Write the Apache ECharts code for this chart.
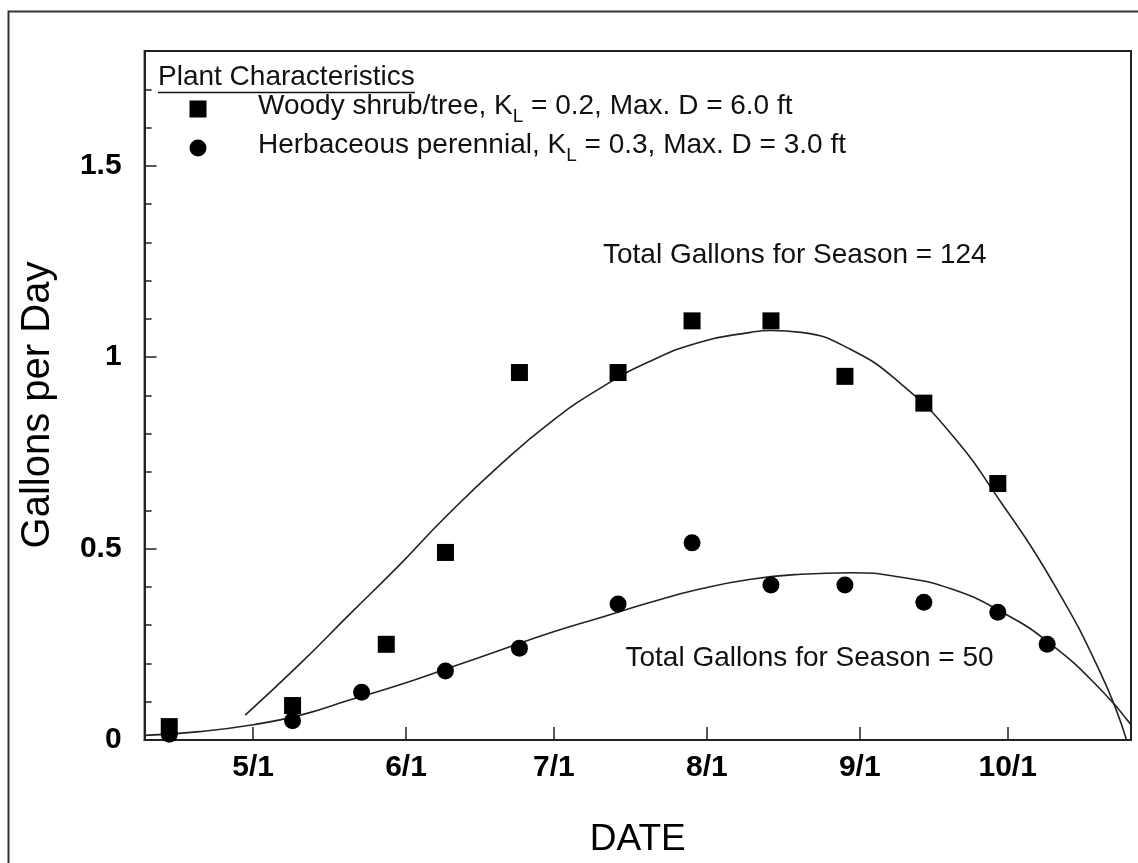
<!DOCTYPE html>
<html><head><meta charset="utf-8">
<script src="https://cdn.jsdelivr.net/npm/echarts@6/dist/echarts.min.js"></script>
<style>html,body{margin:0;padding:0;background:#fff}#c{width:1138px;height:863px}</style>
</head><body><div id="c"></div>
<script>
// x values are day-of-year
const xMin = 99, xMax = 299;
const tickDays = [121, 152, 182, 213, 244, 274];
const tickLabels = ['5/1', '6/1', '7/1', '8/1', '9/1', '10/1'];
const yLabelValues = [0, 0.5, 1, 1.5];

const woodyDays   = [104, 129, 148, 160, 175, 195, 210, 226, 241, 257, 272];
const woodyValues = [0.035, 0.09, 0.25, 0.49, 0.96, 0.96, 1.095, 1.095, 0.95, 0.88, 0.67];

const herbDays   = [104, 129, 143, 160, 175, 195, 210, 226, 241, 257, 272, 282];
const herbValues = [0.015, 0.05, 0.125, 0.18, 0.24, 0.355, 0.515, 0.405, 0.405, 0.36, 0.334, 0.25];

const woodyFitDays   = [119.4, 130.6, 140.7, 150.9, 159.8, 171.2, 181.3, 191.5, 201.6, 211.8, 221.9, 226, 232.1, 242.2, 252.4, 262.5, 272.7, 282.8, 293, 298.1];
const woodyFitValues = [0.065, 0.20, 0.33, 0.46, 0.58, 0.72, 0.83, 0.92, 0.99, 1.04, 1.065, 1.07, 1.065, 1.02, 0.93, 0.80, 0.62, 0.42, 0.17, 0.0];

const herbFitDays   = [99, 110.2, 121, 130.6, 140.7, 150.9, 161.1, 171.2, 181.3, 191.5, 201.6, 211.8, 221.9, 232.1, 242.2, 252.4, 262.5, 272.7, 282.8, 293, 299];
const herbFitValues = [0.012, 0.022, 0.04, 0.065, 0.105, 0.145, 0.19, 0.235, 0.28, 0.32, 0.36, 0.395, 0.42, 0.433, 0.437, 0.425, 0.395, 0.335, 0.25, 0.13, 0.04];

const legendTitle = 'Plant Characteristics';
const woodyLabel = ['Woody shrub/tree, K', 'L', ' = 0.2, Max. D = 6.0 ft'];
const herbLabel = ['Herbaceous perennial, K', 'L', ' = 0.3, Max. D = 3.0 ft'];
const woodyTotal = 'Total Gallons for Season = 124';
const herbTotal = 'Total Gallons for Season = 50';
const xName = 'DATE';
const yName = 'Gallons per Day';

const FONT = "'Liberation Sans', Arial, sans-serif";
const zip = (a, b) => a.map((v, i) => [v, b[i]]);

const chart = echarts.init(document.getElementById('c'), null, {renderer: 'canvas'});

const richStyle = {
  n: {fontSize: 28, fontFamily: FONT, color: '#111', lineHeight: 34, verticalAlign: 'top'},
  s: {fontSize: 19, fontFamily: FONT, color: '#111', lineHeight: 22, verticalAlign: 'bottom'}
};
const richText = parts => '{n|' + parts[0] + '}{s|' + parts[1] + '}{n|' + parts[2] + '}';

chart.setOption({
  backgroundColor: '#fff',
  animation: false,
  grid: {left: 144.6, right: 7, top: 51, bottom: 123, show: true, borderColor: '#222', borderWidth: 2, backgroundColor: 'transparent'},
  xAxis: {
    type: 'value', min: xMin, max: xMax,
    name: xName, nameLocation: 'middle', nameGap: 81,
    nameTextStyle: {fontSize: 37, fontFamily: FONT, color: '#000'},
    axisLine: {show: true, lineStyle: {color: '#222', width: 2}},
    axisTick: {show: true, inside: true, length: 13, customValues: tickDays, lineStyle: {color: '#222', width: 1.5}},
    axisLabel: {show: true, customValues: tickDays, margin: 13, fontSize: 30, fontWeight: 'bold', fontFamily: FONT, color: '#000',
      formatter: v => tickLabels[tickDays.indexOf(Math.round(v))] || ''},
    splitLine: {show: false}
  },
  yAxis: [{
    type: 'value', min: 0, max: 1.8, interval: 0.1,
    axisLine: {show: true, lineStyle: {color: '#222', width: 2}},
    axisTick: {show: true, inside: true, length: 7, lineStyle: {color: '#222', width: 1.5}},
    axisLabel: {show: true, customValues: yLabelValues, margin: 23, fontSize: 30, fontWeight: 'bold', fontFamily: FONT, color: '#000',
      formatter: v => String(Math.round(v * 10) / 10)},
    splitLine: {show: false}
  }, {
    type: 'value', min: 0, max: 1.8, position: 'left',
    axisLine: {show: false},
    axisTick: {show: true, inside: true, length: 12, customValues: yLabelValues, lineStyle: {color: '#222', width: 1.5}},
    axisLabel: {show: false},
    splitLine: {show: false}
  }],
  graphic: [
    {type: 'rect', shape: {x: 8.5, y: 11.5, width: 1300, height: 1000}, style: {fill: 'none', stroke: '#333', lineWidth: 2}, silent: true, z: -1},
    {type: 'text', x: 38, y: 405, rotation: Math.PI / 2, style: {text: yName, fontSize: 40, fontFamily: FONT, fill: '#000', align: 'center', verticalAlign: 'middle'}},
    {type: 'text', x: 158, y: 77, style: {text: legendTitle, fontSize: 28, fontFamily: FONT, fill: '#111', verticalAlign: 'middle'}},
    {type: 'line', shape: {x1: 158, y1: 92.5, x2: 415, y2: 92.5}, style: {stroke: '#111', lineWidth: 1.5}},
    {type: 'rect', shape: {x: 189.5, y: 100.5, width: 17, height: 17}, style: {fill: '#000'}},
    {type: 'circle', shape: {cx: 198, cy: 148, r: 8.5}, style: {fill: '#000'}},
    {type: 'text', x: 258, y: 92, style: {text: richText(woodyLabel), rich: richStyle, fontSize: 28, fontFamily: FONT, fill: '#111', verticalAlign: 'top'}},
    {type: 'text', x: 258, y: 131, style: {text: richText(herbLabel), rich: richStyle, fontSize: 28, fontFamily: FONT, fill: '#111', verticalAlign: 'top'}},
    {type: 'text', x: 603, y: 255.5, style: {text: woodyTotal, fontSize: 28, fontFamily: FONT, fill: '#111', verticalAlign: 'middle'}},
    {type: 'text', x: 625.5, y: 658, style: {text: herbTotal, fontSize: 28, fontFamily: FONT, fill: '#111', verticalAlign: 'middle'}}
  ],
  series: [
    {type: 'line', name: 'woody fit', data: zip(woodyFitDays, woodyFitValues), smooth: true, showSymbol: false, symbol: 'none',
     lineStyle: {color: '#222', width: 1.6}, clip: true, z: 2},
    {type: 'line', name: 'herb fit', data: zip(herbFitDays, herbFitValues), smooth: true, showSymbol: false, symbol: 'none',
     lineStyle: {color: '#222', width: 1.6}, clip: true, z: 2},
    {type: 'scatter', name: 'Woody shrub/tree', data: zip(woodyDays, woodyValues), symbol: 'rect', symbolSize: 17,
     itemStyle: {color: '#000', opacity: 1}, z: 3},
    {type: 'scatter', name: 'Herbaceous perennial', data: zip(herbDays, herbValues), symbol: 'circle', symbolSize: 17,
     itemStyle: {color: '#000', opacity: 1}, z: 3}
  ]
});
</script>
</body></html>
